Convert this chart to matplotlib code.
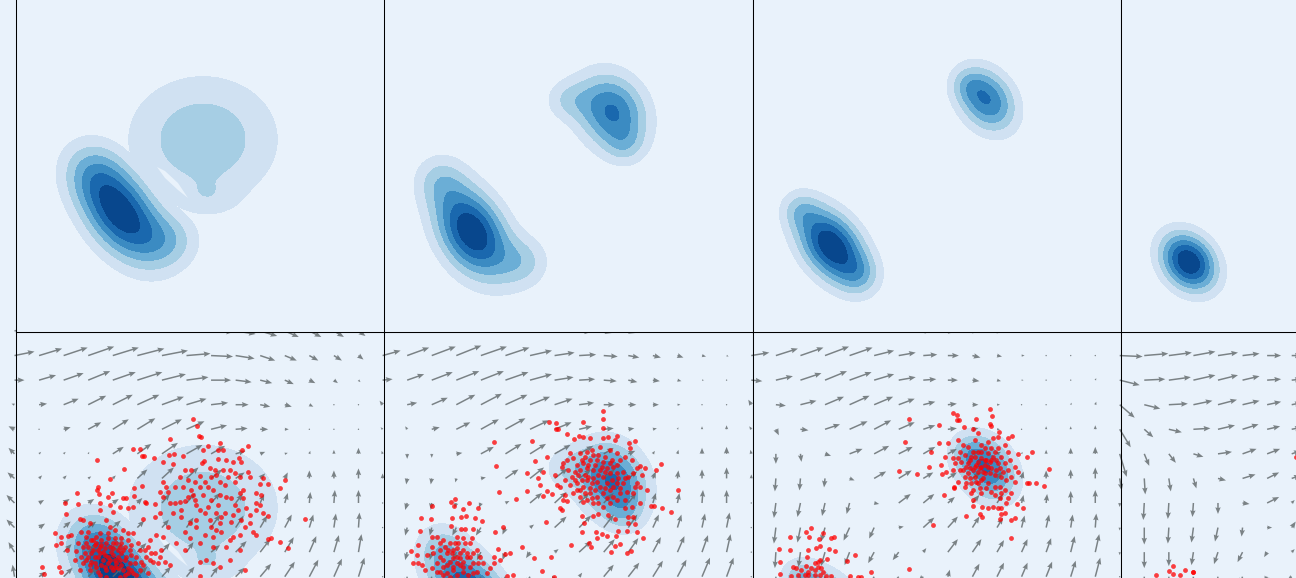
import numpy as np
import matplotlib
matplotlib.use('Agg')
import matplotlib.pyplot as plt

W, H = 1296, 578
PANEL = 368.5
X0 = [16.0, 384.1, 752.8, 1121.2]
ROW_Y0 = {'top': -36.5, 'bottom': 332.0}
STEP = 24.57

BG = '#e9f2fb'
BAND_COLORS = ['#d0e1f2', '#a6cee4', '#6baed6', '#3b8bc2', '#1a68ae', '#08478d']

# density lobes: x, y, long axis, short axis, tilt (deg), height
P1_LOWER = [(104, 248.5, 38, 23, 55, 0.85), (154, 276.5, 22, 20, 0, 0.25), (76, 206.5, 22, 22, 0, 0.2)]
P1_UPPER = [(187, 176, 52, 44, 0, 0.345), (192, 234.5, 20, 12, 0, 0.1)]
P2_LOWER = [(87.9, 268.5, 34, 22, 60, 0.9), (55.9, 216.5, 18, 18, 0, 0.22), (140, 298.5, 18, 18, 0, 0.25)]
P2_UPPER = [(227.9, 148.5, 28, 23, 60, 0.66), (183, 136.5, 16, 14, 0, 0.2), (240.9, 181.5, 13, 13, 0, 0.15)]
P3_LOWER = [(79.0, 282.5, 30, 19, 52, 0.95), (107, 311.5, 14, 14, 0, 0.2), (47, 246.5, 13, 13, 0, 0.2)]
P3_UPPER = [(234.0, 136.5, 24, 18, 55, 0.68), (214, 121.5, 12, 12, 0, 0.15)]
P4_LOWER = [(67.5, 298.5, 22, 17, 50, 1.0)]

# thin gap between the two lobes of the first panel
P1_GAP_X = [141, 149, 162, 172, 162, 149]
P1_GAP_Y = [203.5, 207.5, 219.5, 234.5, 226.5, 214.5]

# arrow components in pixels, one row per grid line
P1_U = [
    [18, 20, 22, 23, 24, 25, 25, 24, 22, 20, 17, 14, 12, 10, 7],
    [20, 23, 24, 26, 26, 27, 26, 24, 22, 19, 15, 12, 9, 8, 5],
    [10, 17, 20, 22, 23, 25, 24, 22, 20, 16, 12, 9, 6, 4, 2],
    [-3, 8, 15, 18, 20, 22, 22, 20, 17, 13, 10, 7, 4, 1, 1],
    [-6, 1, 7, 13, 16, 18, 20, 18, 16, 12, 8, 4, 1, 0, 1],
    [-6, 2, 2, 1, 11, 14, 16, 16, 14, 10, 5, 3, 1, 0, 0],
    [-7, 3, 3, 3, 3, 10, 12, 12, 11, 9, 5, 3, 0, 0, 0],
    [-8, 5, 6, 6, 6, 5, 8, 9, 9, 7, 4, 3, 1, 1, 0],
    [-8, 6, 7, 8, 8, 7, 7, 7, 9, 8, 7, 7, 4, 2, 1],
    [-6, 6, 8, 9, 9, 9, 8, 7, 9, 11, 10, 9, 7, 5, 3],
    [-2, 7, 9, 10, 10, 10, 9, 8, 7, 9, 11, 10, 9, 8, 6],
]
P1_V = [
    [-5, -6, -7, -8, -8, -7, -5, -2, 1, 3, 5, 6, 6, 6, 5],
    [-4, -7, -8, -9, -8, -7, -5, -2, 1, 3, 5, 5, 5, 5, 4],
    [0, -5, -7, -9, -8, -8, -6, -3, 0, 2, 3, 4, 3, 3, 2],
    [-1, -1, -6, -9, -10, -10, -8, -6, -2, 0, 2, 2, 2, 0, 0],
    [-3, -1, -2, -7, -10, -11, -10, -8, -4, -1, 0, 0, 0, 0, -1],
    [-6, -2, -2, -2, -7, -10, -11, -9, -8, -3, -2, -1, -3, -4, -6],
    [-6, -3, -3, -2, -3, -9, -11, -11, -9, -6, -5, -6, -8, -8, -10],
    [-8, -3, -4, -4, -4, -5, -9, -10, -10, -9, -9, -10, -11, -13, -13],
    [-8, -4, -6, -6, -7, -7, -8, -10, -13, -12, -12, -13, -13, -14, -15],
    [-10, -6, -8, -8, -8, -9, -9, -10, -7, -11, -13, -15, -16, -17, -18],
    [-12, -5, -9, -10, -10, -10, -10, -10, -10, -9, -13, -15, -17, -18, -19],
]
P2_U = [
    [18, 20, 22, 23, 24, 22, 20, 15, 12, 8, 7, 5, 5, 5, 4],
    [18, 22, 24, 25, 26, 24, 22, 20, 17, 14, 11, 8, 6, 4, 2],
    [10, 17, 21, 23, 23, 23, 22, 19, 16, 13, 9, 7, 4, 2, 1],
    [-3, 10, 16, 19, 21, 22, 20, 18, 15, 11, 8, 6, 3, 1, 1],
    [-2, -2, 8, 14, 18, 20, 19, 17, 13, 10, 6, 4, 1, 0, 0],
    [-1, 0, 0, 6, 13, 16, 16, 16, 14, 10, 7, 2, 1, 0, 0],
    [0, -1, -1, -1, 5, 13, 14, 13, 12, 11, 9, 3, 1, 0, 0],
    [0, -2, -1, -2, -2, 4, 12, 12, 10, 10, 8, 3, 2, 1, 0],
    [0, -2, -2, -4, -5, -3, 4, 12, 12, 10, 9, 6, 4, 3, 3],
    [0, -2, -2, -3, -4, -3, -4, 4, 12, 11, 10, 8, 7, 6, 4],
    [0, -1, -2, -3, -4, -5, -5, -3, 3, 10, 11, 10, 9, 8, 7],
]
P2_V = [
    [-5, -6, -7, -8, -8, -7, -5, -2, 1, 2, 2, 2, 1, 1, 1],
    [-5, -8, -9, -10, -9, -8, -5, -3, -1, 1, 2, 2, 2, 1, 1],
    [-1, -6, -8, -9, -9, -8, -6, -3, -1, 1, 2, 1, 1, 0, 0],
    [-4, -2, -7, -10, -11, -10, -8, -6, -2, 0, 0, 0, 0, 0, 0],
    [-2, -3, -2, -7, -10, -11, -9, -7, -3, -1, -1, -1, -2, -3, -4],
    [-3, 5, 4, -1, -7, -10, -10, -9, -8, -6, -3, -3, -4, -6, -7],
    [-5, 6, 6, 4, -1, -9, -11, -10, -9, -9, -7, -7, -8, -9, -11],
    [0, 7, 7, 5, 5, -2, -10, -11, -10, -10, -10, -10, -10, -13, -13],
    [0, 8, 8, 8, 8, 7, -3, -11, -12, -13, -13, -13, -13, -14, -15],
    [0, 8, 8, 8, 8, 8, 6, -3, -11, -13, -14, -15, -16, -17, -18],
    [0, 8, 8, 8, 8, 8, 8, 6, -4, -12, -14, -16, -17, -19, -19],
]
P3_U = [
    [18, 20, 22, 23, 23, 20, 15, 8, 7, 6, 6, 4, 0, 0, 0],
    [18, 22, 23, 24, 23, 20, 17, 14, 11, 8, 5, 3, 1, 1, 1],
    [11, 17, 21, 22, 22, 20, 17, 13, 10, 7, 4, 2, 1, 1, 1],
    [-3, 10, 16, 19, 20, 19, 16, 12, 9, 6, 3, 1, 1, 1, 1],
    [-2, 3, 8, 15, 18, 17, 16, 12, 9, 6, 3, 1, 0, 0, 0],
    [-1, 0, 1, 6, 13, 15, 14, 12, 9, 7, 4, 1, 0, 0, 0],
    [0, -1, -1, -1, 5, 12, 13, 10, 9, 8, 6, 2, 0, 0, 0],
    [0, -2, -3, -3, -3, 5, 12, 11, 7, 7, 6, 2, 1, 0, 0],
    [0, -2, -3, -4, -6, -5, 5, 11, 10, 7, 6, 3, 3, 2, 1],
    [0, -1, -2, -4, -5, -6, -6, 3, 10, 9, 7, 6, 5, 4, 4],
    [0, 0, -2, -3, -5, -6, -7, -5, 2, 7, 7, 6, 6, 5, 5],
]
P3_V = [
    [-5, -6, -7, -8, -8, -5, -3, 0, 1, 1, 1, 0, 0, 0, 0],
    [-3, -7, -8, -9, -8, -5, -3, -1, 0, 2, 1, 0, 0, 0, -1],
    [1, -4, -7, -9, -8, -6, -3, -1, 0, 1, 1, 0, 0, 0, -2],
    [-5, 1, -4, -8, -9, -8, -6, -3, -1, 0, 0, 0, 0, -2, -3],
    [-3, 6, 1, -5, -8, -9, -7, -4, -1, -1, 0, -1, -3, -3, -4],
    [-4, 10, 8, 2, -5, -8, -7, -7, -5, -3, -2, -2, -4, -6, -7],
    [-4, 13, 12, 9, 2, -7, -8, -6, -6, -6, -7, -7, -8, -9, -11],
    [0, 15, 14, 13, 11, 1, -9, -9, -6, -8, -9, -8, -9, -12, -13],
    [0, 16, 15, 14, 13, 11, -1, -10, -11, -11, -10, -12, -13, -13, -14],
    [0, 16, 15, 14, 13, 11, 8, -4, -13, -13, -12, -13, -14, -16, -18],
    [0, 14, 14, 13, 12, 10, 8, 5, -7, -13, -14, -14, -15, -16, -19],
]
P4_U = [
    [0, 0, 0, 0, 0, 0, 5, 5],
    [23, 24, 23, 22, 20, 17, 14, 10],
    [20, 21, 22, 22, 20, 17, 14, 10],
    [15, 16, 19, 19, 19, 17, 14, 10],
    [11, 9, 13, 17, 17, 16, 13, 10],
    [7, 5, 7, 10, 14, 14, 13, 9],
    [2, 1, 2, 3, 8, 13, 12, 9],
    [0, -1, -1, -1, 0, 7, 12, 3],
    [0, 0, -1, -2, -3, -1, 5, 4],
    [0, 0, 0, -2, -4, -5, -3, 3],
    [0, 0, 0, -1, -2, -3, -3, -4],
]
P4_V = [
    [0, 0, 0, 0, 0, 0, 0, 0],
    [1, -2, -3, -4, -3, -2, 0, 0],
    [5, -1, -3, -5, -5, -4, -1, -1],
    [13, 4, -1, -4, -5, -4, -3, -2],
    [18, 8, 3, -1, -4, -5, -3, -2],
    [23, 12, 9, 3, -2, -5, -5, -3],
    [12, 16, 13, 10, 2, -4, -6, -3],
    [4, 17, 16, 14, 11, 1, -6, -3],
    [3, 17, 16, 15, 14, 9, 0, -6],
    [3, 16, 14, 13, 12, 10, 5, -3],
    [0, 14, 14, 10, 10, 8, 6, 3],
]

# red samples, read at 3x zoom: thirds of a pixel from the panel corner
P1_PTS = [
    (531, 260), (543, 282), (548, 311), (556, 316), (463, 322), (613, 332), (696, 342), (677, 354),
    (351, 351), (371, 351), (379, 371), (385, 371), (414, 379), (458, 370), (473, 367), (500, 371),
    (243, 385), (323, 410), (283, 442), (246, 465), (243, 474), (249, 485), (183, 482), (277, 494),
    (289, 482), (321, 499), (329, 497), (353, 491), (354, 469), (379, 463), (562, 354), (576, 343),
    (606, 354), (621, 354), (607, 382), (631, 384), (651, 391), (669, 379), (676, 389), (441, 391),
    (471, 397), (563, 386), (557, 394), (506, 414), (526, 414), (551, 431), (601, 429), (621, 414),
    (636, 434), (671, 434), (696, 419), (701, 434), (741, 439), (757, 456), (731, 456), (791, 469),
    (808, 445), (721, 484), (736, 489), (721, 514), (731, 519), (741, 544), (756, 551), (721, 534),
    (701, 549), (681, 499), (671, 484), (646, 499), (611, 489), (591, 474), (576, 464), (551, 464),
    (526, 474), (501, 464), (476, 464), (451, 464), (441, 449), (431, 479), (461, 514), (491, 509),
    (506, 506), (541, 519), (551, 534), (576, 524), (601, 544), (616, 554), (646, 569), (676, 564),
    (701, 572), (711, 599), (721, 609), (756, 622), (766, 619), (791, 630), (816, 648), (866, 562),
    (641, 624), (651, 614), (671, 609), (601, 594), (616, 599), (591, 614), (551, 634), (521, 619),
    (506, 599), (541, 584), (541, 564), (496, 554), (471, 544), (456, 584), (431, 544), (416, 554),
    (381, 562), (386, 509), (391, 514), (418, 516), (351, 524), (336, 527), (313, 524),
    (401, 624), (421, 609), (441, 614), (481, 634), (506, 654), (431, 674), (446, 689), (461, 699),
    (551, 689), (571, 684), (641, 684), (671, 654), (686, 714), (591, 694), (611, 704), (551, 732),
    (147, 514), (186, 516), (149, 547), (191, 561), (116, 604), (134, 616), (156, 612), (121, 639),
    (136, 634), (166, 610), (79, 705), (84, 725), (129, 706), (136, 719), (154, 654), (179, 656),
    (201, 564), (221, 574), (251, 514), (251, 534), (281, 519), (291, 539), (211, 614), (231, 624),
    (251, 604), (271, 564), (281, 584), (296, 594), (321, 594), (336, 604), (351, 604), (366, 634),
    (371, 654), (391, 674), (381, 699), (401, 684), (411, 689), (371, 714), (396, 724), (351, 724),
    (341, 694), (331, 674), (311, 644), (291, 634), (271, 634), (251, 644), (231, 654), (216, 674),
    (201, 694), (191, 714), (221, 714), (241, 704), (261, 684), (281, 684), (301, 694), (321, 714),
    (291, 714), (271, 714), (251, 729), (271, 734), (311, 734), (211, 634), (201, 644), (241, 614),
    (256, 624), (276, 604), (296, 619), (316, 619), (236, 639), (261, 659), (286, 659), (306, 674),
    (246, 674), (226, 689), (196, 674), (216, 599), (196, 599), (186, 634), (176, 684),
    # denser parts
    (216, 644), (226, 624), (241, 634), (246, 654), (256, 639), (266, 649), (276, 619), (281, 644),
    (291, 649), (301, 634), (306, 654), (316, 634), (321, 654), (326, 644), (336, 624), (341, 654),
    (346, 639), (226, 664), (236, 674), (251, 664), (266, 669), (276, 674), (291, 669), (296, 684),
    (311, 684), (316, 664), (326, 684), (336, 709), (346, 669), (356, 694), (361, 674), (206, 664),
    (211, 684), (221, 699), (236, 694), (246, 719), (256, 699), (266, 704), (276, 694), (286, 704),
    (296, 704), (306, 709), (316, 699), (326, 729), (336, 724), (346, 714), (361, 729), (376, 689),
    (386, 654), (396, 644), (406, 664), (416, 664), (426, 694), (436, 654),
    (491, 434), (516, 444), (536, 449), (566, 449), (586, 434), (611, 449), (626, 459), (656, 449),
    (681, 474), (516, 494), (531, 489), (561, 489), (586, 504), (606, 519), (631, 494), (656, 519),
    (666, 534), (691, 529), (536, 504), (566, 544), (581, 564), (626, 544), (651, 549), (686, 584),
    (611, 574), (586, 584), (521, 574), (476, 514), (496, 534), (566, 609), (591, 644), (631, 644),
    (441, 494), (456, 479), (581, 409), (596, 414), (641, 414), (656, 424),
]
P2_PTS = [
    (656, 237), (658, 260), (658, 287), (598, 271), (495, 271), (516, 274), (516, 291), (523, 291),
    (548, 306), (331, 331), (445, 328), (336, 402), (453, 388), (490, 375), (428, 422), (345, 480),
    (396, 500), (428, 476), (461, 439), (468, 460), (478, 491), (490, 478), (503, 485), (571, 321),
    (585, 312), (598, 314), (618, 319), (658, 319), (673, 316), (698, 312), (693, 324), (753, 328),
    (736, 334), (738, 349), (830, 397), (816, 414), (783, 407), (768, 402), (790, 474), (883, 474),
    (801, 522), (811, 522), (835, 528), (861, 539), (776, 619), (758, 601), (741, 656), (728, 662),
    (708, 636), (693, 642), (681, 659), (621, 644), (615, 634), (636, 599), (638, 619), (653, 607),
    (668, 612), (695, 612), (703, 596), (728, 596), (733, 572), (753, 576), (748, 554), (733, 556),
    (595, 552), (601, 574), (593, 601), (628, 552), (643, 546), (673, 549), (693, 562), (528, 529),
    (533, 534), (538, 504), (548, 506), (561, 639), (485, 571),
    (558, 364), (548, 384), (538, 394), (533, 404), (568, 379), (588, 364), (608, 359), (623, 354),
    (648, 344), (678, 354), (698, 364), (723, 374), (743, 384), (758, 409), (773, 429), (758, 454),
    (768, 464), (748, 484), (768, 514), (743, 524), (723, 529), (698, 504), (678, 514), (658, 524),
    (628, 514), (608, 504), (588, 494), (568, 484), (543, 489), (528, 464), (513, 429), (518, 459),
    (478, 419), (563, 434), (583, 429), (603, 429), (623, 454), (638, 449), (658, 434), (678, 424),
    (698, 424), (718, 419), (718, 454), (698, 454), (678, 474), (658, 484), (638, 494), (618, 484),
    (598, 464), (578, 454), (558, 459), (598, 394), (618, 384), (638, 384), (658, 389), (678, 394),
    (698, 399), (588, 414), (608, 409), (628, 414), (648, 414), (668, 409), (688, 404), (608, 444),
    (648, 464), (668, 454), (708, 484), (733, 434), (748, 424), (753, 464), (578, 474), (623, 499),
    (200, 511), (213, 500), (210, 521), (254, 514), (283, 528), (145, 522), (236, 531), (111, 557),
    (142, 560), (205, 559), (231, 556), (245, 551), (273, 559), (293, 566), (356, 586), (333, 601),
    (108, 596), (201, 583), (230, 591), (243, 591), (268, 591), (145, 614), (160, 616), (103, 639),
    (80, 658), (98, 670), (88, 694), (103, 692), (113, 699), (123, 714), (128, 669), (143, 644),
    (343, 651), (378, 662), (363, 666), (348, 684), (330, 676), (330, 692), (413, 645), (450, 679),
    (501, 676), (473, 716), (510, 736), (368, 732), (386, 729),
    (168, 634), (178, 624), (198, 634), (218, 614), (238, 619), (258, 634), (263, 619), (278, 654),
    (288, 674), (298, 694), (318, 709), (308, 724), (258, 674), (238, 654), (223, 634), (208, 654),
    (188, 664), (168, 674), (158, 694), (178, 704), (198, 689), (218, 674), (238, 689), (258, 704),
    (278, 719), (238, 719), (208, 714), (188, 724), (158, 719), (143, 709), (168, 654), (148, 664),
    (228, 699), (198, 734), (253, 729), (283, 694), (218, 649), (243, 634),
    # denser parts
    (578, 399), (593, 384), (603, 374), (628, 369), (643, 369), (663, 374), (683, 384), (708, 384),
    (573, 419), (593, 444), (613, 434), (628, 439), (643, 429), (663, 419), (683, 444), (703, 439),
    (723, 439), (573, 444), (588, 474), (603, 484), (618, 469), (633, 474), (663, 469), (688, 464),
    (708, 469), (728, 479), (598, 509), (643, 514), (668, 499), (688, 494), (723, 504), (613, 399),
    (633, 399), (653, 404), (553, 414), (543, 444),
    (183, 644), (193, 654), (203, 664), (213, 634), (228, 664), (248, 664), (268, 664), (178, 684),
    (188, 699), (208, 679), (228, 679), (248, 674), (268, 694), (218, 694), (208, 704), (238, 704),
    (168, 719), (178, 729), (218, 729), (268, 724),
]
P3_PTS = [
    (468, 262), (600, 243), (614, 248), (614, 265), (618, 265), (713, 232), (717, 251), (671, 260),
    (711, 276), (716, 281), (559, 280), (633, 284), (456, 331), (661, 292), (676, 304), (739, 299),
    (779, 311), (766, 319), (559, 334), (586, 334), (536, 359), (839, 360), (824, 374), (796, 366),
    (888, 411), (439, 417), (494, 425), (528, 405), (564, 399), (568, 426), (581, 419), (822, 454),
    (829, 454), (851, 454), (873, 462), (573, 490), (604, 464), (603, 469), (660, 522), (688, 524),
    (661, 504), (706, 529), (721, 524), (736, 529), (746, 529), (793, 516), (811, 527), (639, 551),
    (683, 547), (688, 554), (741, 562), (746, 546), (756, 544), (776, 564), (788, 559), (542, 579),
    (774, 619),
    (616, 324), (631, 339), (646, 344), (666, 324), (686, 339), (706, 329), (721, 319), (736, 314),
    (756, 339), (766, 359), (771, 384), (786, 404), (796, 419), (786, 449), (776, 484), (766, 499),
    (761, 514), (741, 499), (726, 489), (686, 484), (656, 484), (636, 464), (616, 449), (601, 414),
    (606, 394), (626, 389), (636, 369), (621, 359), (601, 379), (576, 374), (646, 394), (666, 374),
    (686, 359), (706, 364), (726, 359), (746, 374), (756, 394), (766, 414), (746, 434), (726, 429),
    (706, 404), (686, 404), (666, 404), (646, 424), (666, 434), (686, 444), (706, 454), (726, 464),
    (741, 464), (676, 454), (656, 454), (636, 434), (621, 414), (696, 384), (716, 384), (736, 394),
    (676, 389), (651, 409), (696, 424), (716, 409), (661, 359), (686, 379), (711, 389), (676, 419),
    (696, 399),
    # denser parts
    (656, 374), (676, 359), (696, 349), (716, 349), (736, 349), (651, 384), (671, 399), (661, 414),
    (681, 409), (691, 419), (701, 384), (721, 374), (731, 384), (741, 409), (751, 419), (731, 414),
    (711, 424), (691, 439), (671, 449), (651, 439), (641, 454), (661, 474), (681, 469), (701, 469),
    (716, 479), (746, 484), (756, 474), (641, 404), (631, 414), (616, 379), (761, 444), (776, 434),
    (166, 719), (176, 709), (196, 689), (206, 709), (156, 729), (186, 729),
    (174, 587), (159, 601), (211, 604), (111, 616), (168, 616), (199, 621), (236, 618), (243, 616),
    (80, 651), (111, 653), (166, 653), (191, 649), (203, 642), (228, 651), (248, 656), (284, 687),
    (306, 668), (83, 691), (164, 676), (201, 684), (224, 682), (121, 706), (131, 707), (356, 719),
    (468, 710), (293, 731), (83, 727), (116, 732), (136, 729), (146, 714), (161, 702), (186, 694),
    (196, 704), (211, 719), (186, 714), (166, 729), (236, 732), (201, 729), (221, 732), (316, 736),
    (326, 734),
]
P4_PTS = [
    (154, 702), (143, 716), (154, 726), (191, 713), (177, 730), (216, 720), (214, 721), (103, 730),
    (524, 376),
]
PANEL_LOBES = [[P1_LOWER, P1_UPPER], [P2_LOWER, P2_UPPER], [P3_LOWER, P3_UPPER], [P4_LOWER]]
PANEL_U = [P1_U, P2_U, P3_U, P4_U]
PANEL_V = [P1_V, P2_V, P3_V, P4_V]
PANEL_PTS = [P1_PTS, P2_PTS, P3_PTS, P4_PTS]


def blob_field(blobs, xx, yy):
    # the blobs stay apart, so the crease between them shows up like in the picture
    field = np.zeros_like(xx)
    for lobes in blobs:
        blob = np.zeros_like(xx)
        for cx, cy, major, minor, tilt, height in lobes:
            a = np.deg2rad(tilt)
            along = (xx - cx) * np.cos(a) + (yy - cy) * np.sin(a)
            across = -(xx - cx) * np.sin(a) + (yy - cy) * np.cos(a)
            blob += height * np.exp(-0.5 * ((along / major) ** 2 + (across / minor) ** 2))
        field = np.maximum(field, blob)
    return field


def add_panel(fig, x0, y0):
    ax = fig.add_axes([x0 / W, 1 - (y0 + PANEL) / H, PANEL / W, PANEL / H])
    ax.set_facecolor(BG)
    ax.set_xlim(0, PANEL)
    ax.set_ylim(PANEL, 0)
    ax.set_xticks([])
    ax.set_yticks([])
    for spine in ax.spines.values():
        spine.set_linewidth(0.75)
        spine.set_color('black')
    return ax


def draw_density(ax, blobs, gap=False):
    grid = np.linspace(0, PANEL, 500)
    xx, yy = np.meshgrid(grid, grid)
    field = blob_field(blobs, xx, yy)
    levels = np.arange(1, 8) / 7 * field.max()
    ax.contourf(xx, yy, field, levels=levels, colors=BAND_COLORS, zorder=1)
    if gap:
        ax.fill(P1_GAP_X, P1_GAP_Y, color=BG, lw=0, zorder=1.5)


fig = plt.figure(figsize=(W / 100, H / 100), dpi=100, facecolor=BG)

# lower row goes first, the upper panels then hide the arrow tips sticking out at the top
for k, x0 in enumerate(X0):
    ax = add_panel(fig, x0, ROW_Y0['bottom'])
    draw_density(ax, PANEL_LOBES[k], gap=k == 0)
    u = np.array(PANEL_U[k], dtype=float)
    v = np.array(PANEL_V[k], dtype=float)
    gx = -1.5 + np.arange(u.shape[1]) * STEP
    gy = -1.0 + np.arange(u.shape[0]) * STEP
    xx, yy = np.meshgrid(gx, gy)
    ax.quiver(xx, yy, u, v, angles='xy', scale_units='xy', scale=1, units='dots', width=1.5,
              headwidth=3.6, headlength=4.5, headaxislength=4, color='#5f6668', alpha=0.8,
              pivot='tail', zorder=2, clip_on=False)
    pts = np.array(PANEL_PTS[k], dtype=float) / 3
    ax.scatter(pts[:, 0], pts[:, 1], s=12, color='red', alpha=0.75, linewidths=0, zorder=3)

for k, x0 in enumerate(X0):
    ax = add_panel(fig, x0, ROW_Y0['top'])
    draw_density(ax, PANEL_LOBES[k], gap=k == 0)

fig.savefig('out.png', dpi=100)
